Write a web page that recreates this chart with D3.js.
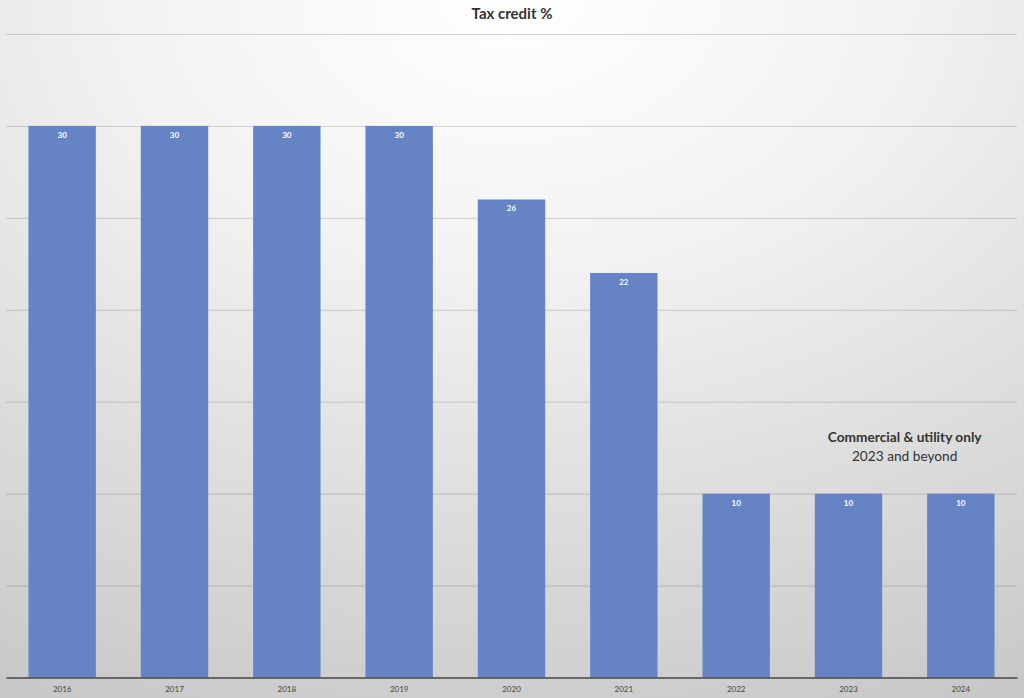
<!DOCTYPE html>
<html>
<head>
<meta charset="utf-8">
<script src="https://cdn.jsdelivr.net/npm/d3@7"></script>
<style>
html,body{margin:0;padding:0;}
svg{display:block;}
</style>
</head>
<body>
<svg id="chart" width="1024" height="698"></svg>
<script>
const years = ["2016","2017","2018","2019","2020","2021","2022","2023","2024"];
const credit = [30,30,30,30,26,22,10,10,10];
const gridTicks = [5,10,15,20,25,30,35];
const title = "Tax credit %";
const noteLines = ["Commercial & utility only","2023 and beyond"];

(function(){
const W = 1024, H = 698;
const svg = d3.select("#chart");
const defs = svg.append("defs");
const rg = defs.append("radialGradient").attr("id","bg")
  .attr("cx","50%").attr("cy","0%").attr("r","110%")
  .attr("fx","50%").attr("fy","0%");
rg.append("stop").attr("offset","0%").attr("stop-color","#ffffff");
rg.append("stop").attr("offset","35%").attr("stop-color","#f2f2f2");
rg.append("stop").attr("offset","100%").attr("stop-color","#c8c8c8");
svg.append("rect").attr("width",W).attr("height",H).attr("fill","url(#bg)");

const pLeft = 6, pRight = 1017, pTop = 34, pBottom = 677.5;
const x = d3.scaleBand().domain(years).range([pLeft,pRight]).paddingInner(0.4).paddingOuter(0.2);
const y = d3.scaleLinear().domain([0,35]).range([pBottom,pTop]);

// gridlines
const grid = svg.append("g").attr("transform",`translate(${pLeft},0)`)
  .call(d3.axisLeft(y).tickValues(gridTicks).tickSize(-(pRight-pLeft)).tickFormat(""));
grid.select(".domain").remove();
grid.selectAll(".tick line").attr("stroke","rgba(0,0,0,0.16)").attr("stroke-width",1);

// bars
svg.append("g").selectAll("rect").data(credit).join("rect")
  .attr("x",(d,i)=>x(years[i]))
  .attr("y",d=>y(d))
  .attr("width",x.bandwidth())
  .attr("height",d=>y(0)-y(d))
  .attr("fill","#6683c6");

// value labels
svg.append("g").selectAll("text").data(credit).join("text")
  .attr("x",(d,i)=>x(years[i])+x.bandwidth()/2)
  .attr("y",d=>y(d)+12)
  .attr("text-anchor","middle")
  .attr("font-family","Lato, 'Open Sans', sans-serif")
  .attr("font-weight","bold")
  .attr("font-size",8)
  .attr("fill","#ffffff")
  .text(d=>d);

// x axis
const xa = svg.append("g").attr("transform",`translate(0,${pBottom})`)
  .call(d3.axisBottom(x).tickSize(0).tickPadding(9));
xa.select(".domain").attr("stroke","#444").attr("stroke-width",1.5);
xa.selectAll("text").attr("font-family","Lato, 'Open Sans', sans-serif").attr("font-size",8).attr("fill","#444");

// title
svg.append("text").attr("x",512).attr("y",19).attr("text-anchor","middle")
  .attr("font-family","Lato, 'Open Sans', sans-serif").attr("font-weight","bold")
  .attr("font-size",15).attr("fill","#333").text(title);

// note
const nx = (x("2023") + x("2024") + x.bandwidth()) / 2;
svg.append("text").attr("x",nx).attr("y",442).attr("text-anchor","middle")
  .attr("font-family","Lato, 'Open Sans', sans-serif").attr("font-weight","bold")
  .attr("font-size",13.7).attr("fill","#333").text(noteLines[0]);
svg.append("text").attr("x",nx).attr("y",461).attr("text-anchor","middle")
  .attr("font-family","Lato, 'Open Sans', sans-serif")
  .attr("font-size",13.7).attr("fill","#333").text(noteLines[1]);
})();
</script>
</body>
</html>
